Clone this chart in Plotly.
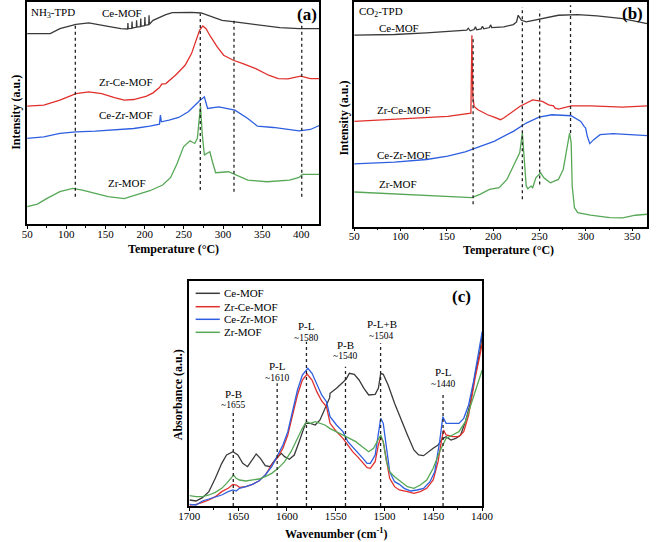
import plotly.graph_objects as go

FONT = "Liberation Serif"
C_CE = "#3a3a3a"
C_ZRCE = "#e0302c"
C_CEZR = "#2e5fe0"
C_ZR = "#56a856"

# ---------------- (a) NH3-TPD ----------------
a_ce_T = [50, 79.5, 91.8, 112.3, 128.7, 141, 153.3, 169.7, 177.9, 178.3, 178.6, 179.0, 183.5, 183.9, 184.3,
          189.3, 189.7, 190.1, 194.6, 195.0, 195.4, 199.9, 200.3, 200.7, 205.2, 205.6, 206.0,
          210.7, 227, 235.2, 259.8, 272.1, 284.4, 298.8, 315.2, 348, 372.5, 397.1, 423]
a_ce_I = [57.2, 57.2, 58.7, 60.0, 60.4, 60.0, 59.4, 58.7, 58.6, 58.6, 60.4, 58.7, 58.8, 60.8, 58.9,
          59.1, 61.2, 59.2, 59.3, 61.7, 59.4, 59.6, 62.2, 59.7, 59.9, 62.7, 60.0,
          61.2, 62.9, 63.5, 63.6, 63.4, 62.4, 61.2, 60.7, 59.7, 59.0, 58.7, 58.7]
a_zrce_T = [50, 71.3, 91.8, 112.3, 128.7, 145.1, 161.5, 173.8, 186.1, 202.5, 210.7, 218.9, 221.7, 227,
            239.3, 251.6, 259.8, 266, 270.1, 274.2, 278.3, 284.4, 292.6, 300.8, 313.1, 325.4, 341.8, 358.2,
            370.5, 382.8, 399.2, 411.5, 423]
a_zrce_I = [35.4, 35.7, 37.2, 39.2, 39.7, 39.2, 38.0, 37.2, 37.4, 38.4, 39.4, 41.0, 42.0, 42.2,
            44.7, 47.7, 51.2, 55.2, 58.2, 59.5, 58.7, 56.2, 53.2, 50.7, 49.2, 48.2, 46.7, 44.7,
            43.7, 43.6, 44.4, 43.7, 43.7]
a_cezr_T = [50, 71.3, 91.8, 112.3, 136.9, 161.5, 186.1, 206.6, 218.9, 220.1, 221.3, 231.1, 243.4, 255.7,
            263.9, 270.1, 276.2, 280.3, 294.7, 315.2, 331.6, 343.9, 364.3, 397.1, 411.5, 423]
a_cezr_I = [25.7, 26.2, 27.2, 27.7, 27.9, 28.2, 28.7, 29.4, 30.0, 32.7, 30.7, 31.2, 32.0, 33.7,
            35.7, 37.0, 38.2, 34.7, 35.2, 34.2, 31.7, 29.4, 29.0, 28.0, 28.4, 29.6]
a_zr_T = [50, 63.1, 75.4, 91.8, 108.2, 120.5, 136.9, 153.3, 173.8, 190.2, 206.6, 223, 233.2, 241.4, 249.6,
          257.8, 263.9, 267.2, 269.3, 271.3, 273.4, 276.2, 279.1, 283.2, 286.5, 290.6, 307, 331.6, 356.1,
          384.8, 397.1, 401.2, 423]
a_zr_I = [5.2, 6.0, 7.7, 9.7, 10.7, 10.2, 9.2, 8.2, 7.6, 8.7, 10.0, 11.7, 14.0, 18.2, 23.2,
          25.0, 24.2, 25.7, 30.2, 35.4, 27.2, 20.7, 21.2, 21.7, 18.7, 15.4, 15.7, 13.2, 12.7,
          13.2, 14.0, 14.9, 14.9]
a_marks = [111.5, 271.0, 314.0, 400.5]
a_mark_lo = [8.2, 10.2, 9.7, 8.2]
a_mark_hi = [59.7, 63.2, 61.2, 60.7]

# ---------------- (b) CO2-TPD ----------------
b_ce_T = [50, 93.4, 128, 162.7, 171.4, 173.1, 175.2, 179.4, 180.8, 182.2, 187, 188.4, 189.8, 196, 197.1,
          198.5, 211.3, 221.7, 225.2, 226.9, 230.4, 235.6, 252.9, 270.3, 291.1, 311.9, 339.6, 366]
b_ce_I = [57.7, 57.9, 58.4, 58.9, 59.2, 59.8, 59.0, 59.4, 60.2, 59.3, 59.6, 60.4, 59.6, 60.0, 60.8,
          60.0, 60.2, 60.9, 61.7, 63.7, 62.2, 61.7, 62.7, 63.7, 63.9, 63.5, 62.7, 61.2]
b_zrce_T = [50, 98.9, 150.9, 175.9, 177, 178, 179.4, 183.5, 193.9, 200.9, 207.8, 211.3, 218.2, 228.6,
            242.5, 252.9, 259.8, 265, 266.8, 270.3, 284.1, 304.9, 339.6, 366]
b_zrce_I = [31.7, 32.4, 33.2, 34.2, 57.7, 39.2, 36.2, 35.2, 33.7, 33.0, 32.2, 32.7, 34.2, 36.2,
            38.2, 37.7, 36.7, 36.4, 35.7, 35.4, 36.4, 36.4, 36.0, 36.4]
b_cezr_T = [50, 93.4, 128, 150.9, 169.7, 183.5, 200.9, 221.7, 235.6, 249.4, 263.3, 284.1, 294.5, 298,
            299.7, 301.5, 304.2, 308.4, 315.3, 329.2, 366]
b_cezr_I = [18.9, 19.4, 20.2, 21.2, 22.5, 24.0, 25.7, 28.7, 31.2, 33.0, 33.7, 33.4, 31.7, 30.2,
            29.7, 27.2, 25.0, 26.2, 27.7, 28.0, 27.4]
b_zr_T = [50, 98.9, 150.9, 177, 185.6, 196, 206.4, 214.8, 223.4, 228.6, 231.4, 233.8, 235.6, 237.3,
          240.8, 242.5, 246, 251.2, 254.6, 261.6, 270.3, 275.5, 278.9, 282.4, 284.1, 285.2, 287.6, 291.1,
          304.9, 325.8, 339.6, 353.5, 366]
b_zr_I = [10.4, 9.7, 9.0, 8.7, 9.7, 11.2, 11.7, 14.2, 19.2, 22.2, 28.2, 18.2, 12.2, 11.4,
          12.2, 11.7, 14.7, 16.2, 14.7, 13.2, 14.2, 17.2, 23.2, 28.2, 25.2, 12.2, 5.7, 4.2,
          3.4, 2.7, 2.6, 3.4, 3.7]
b_marks = [178.3, 231.4, 250.1, 283.4]
b_mark_lo = [6.7, 8.2, 12.7, 28.2]
b_mark_hi = [57.4, 66.2, 65.2, 66.7]

# ---------------- (c) Py-IR ----------------
c_ce_W = [1699.8, 1693.2, 1686.6, 1680, 1673.4, 1666.8, 1661.9, 1655.3, 1650.3, 1645.3, 1640.4, 1635.4,
          1631.5, 1627.2, 1622.2, 1617.3, 1612.3, 1605.7, 1602.4, 1597.5, 1592.5, 1587.5, 1584.2, 1580.9,
          1576, 1571, 1566.1, 1561.1, 1556.2, 1555.8, 1549.2, 1542.6, 1539.3, 1536, 1531, 1526.1, 1521.1,
          1516.2, 1509.6, 1506.3, 1503.9, 1501.3, 1496.3, 1489.7, 1483.1, 1476.5, 1469.9, 1465, 1460,
          1455.1, 1450.1, 1445.1, 1440.9, 1436.9, 1431.9, 1427, 1422, 1417.1, 1412.1, 1407.2, 1402.2, 1399.9]
c_ce_A = [1.8, 1.5, 2.5, 4.3, 8.3, 12.8, 15.3, 16.3, 15.3, 12.8, 11.8, 13.8,
          15.6, 14.3, 12.1, 11.8, 13.8, 15.8, 14.8, 14.0, 15.3, 19.3, 22.3, 24.8,
          24.8, 24.3, 25.8, 29.3, 32.5, 33.8, 35.3, 37.1, 38.1, 39.8, 39.5, 37.8, 35.3,
          33.3, 33.5, 35.3, 39.8, 39.5, 36.3, 30.8, 25.8, 21.3, 16.8, 15.3, 15.1,
          16.3, 17.3, 18.3, 20.1, 20.8, 19.8, 20.3, 21.3, 25.3, 30.8, 39.3, 46.3, 51.3]
c_zrce_W = [1699.8, 1693.2, 1686.6, 1680, 1673.4, 1666.8, 1660.2, 1655.3, 1652, 1648.7, 1642.1, 1635.4,
            1628.8, 1622.2, 1615.6, 1609, 1604.1, 1599.1, 1594.2, 1589.2, 1584.2, 1579.3, 1574.3, 1569.4,
            1564.4, 1559.5, 1555.8, 1549.2, 1542.6, 1537.6, 1532.7, 1527.7, 1522.8, 1517.8, 1514.5, 1509.6,
            1506.3, 1503.9, 1501.3, 1498, 1494.7, 1489.7, 1484.8, 1476.5, 1469.9, 1463.3, 1456.7, 1450.1,
            1445.1, 1441.8, 1439.5, 1436.9, 1430.3, 1423.7, 1418.8, 1413.8, 1407.2, 1402.2, 1399.9]
c_zrce_A = [0.3, 0.5, 1.1, 1.8, 2.8, 4.3, 5.3, 6.5, 6.3, 5.6, 5.8, 6.5,
            7.5, 9.3, 12.3, 14.8, 17.3, 21.3, 27.3, 33.3, 37.8, 39.6, 37.8, 34.3,
            31.5, 29.8, 24.8, 22.3, 20.3, 18.3, 16.3, 14.8, 13.3, 11.5, 11.3, 13.3,
            18.3, 20.6, 19.3, 13.3, 8.3, 5.8, 4.8, 4.3, 3.8, 4.3, 5.3, 7.8,
            13.3, 19.3, 22.8, 21.3, 20.8, 20.8, 22.3, 27.3, 38.3, 45.3, 48.8]
c_cezr_W = [1699.8, 1693.2, 1686.6, 1680, 1673.4, 1666.8, 1660.2, 1655.3, 1652, 1648.7, 1642.1, 1635.4,
            1628.8, 1622.2, 1615.6, 1609, 1604.1, 1599.1, 1594.2, 1589.2, 1584.2, 1578.6, 1574.3, 1569.4,
            1564.4, 1559.5, 1555.8, 1549.2, 1542.6, 1537.6, 1532.7, 1527.7, 1522.8, 1517.8, 1514.5, 1509.6,
            1506.3, 1503.9, 1501.3, 1498, 1494.7, 1489.7, 1484.8, 1479.8, 1473.2, 1466.6, 1460, 1453.4,
            1448.5, 1443.5, 1440.2, 1436.9, 1430.3, 1423.7, 1418.8, 1413.8, 1408.8, 1403.9, 1399.9]
c_cezr_A = [0.5, 0.3, 1.5, 2.1, 2.5, 3.3, 4.3, 4.8, 4.5, 5.3, 5.8, 6.5,
            7.5, 9.3, 11.8, 15.3, 18.3, 22.3, 28.3, 34.8, 39.3, 41.3, 39.8, 36.3,
            33.3, 31.3, 26.8, 24.3, 22.3, 19.3, 17.8, 16.3, 14.5, 12.8, 12.8, 15.3,
            22.3, 26.3, 24.8, 17.3, 10.3, 7.3, 6.5, 5.3, 4.5, 4.8, 5.3, 7.3,
            10.3, 19.3, 26.8, 24.8, 24.8, 24.8, 26.3, 30.3, 37.3, 45.3, 52.3]
c_zr_W = [1699.8, 1693.2, 1686.6, 1680, 1673.4, 1666.8, 1661.9, 1656.9, 1654.6, 1652, 1648.7, 1642.1,
          1635.4, 1628.8, 1622.2, 1615.6, 1609, 1602.4, 1595.8, 1589.2, 1584.2, 1580, 1576, 1571,
          1566.1, 1561.1, 1556.2, 1549.2, 1542.6, 1536, 1529.4, 1522.8, 1516.2, 1511.2, 1506.3, 1503.9,
          1501.3, 1498, 1494.7, 1489.7, 1483.1, 1476.5, 1469.9, 1463.3, 1456.7, 1450.1, 1443.5, 1436.9,
          1430.3, 1423.7, 1417.1, 1410.5, 1403.9, 1399.9]
c_zr_A = [3.1, 2.8, 2.8, 3.3, 4.1, 5.3, 6.8, 8.3, 9.3, 8.3, 7.8, 7.5,
          7.8, 8.1, 8.8, 9.8, 11.3, 13.3, 16.3, 20.3, 23.3, 25.3, 24.8, 25.3,
          24.8, 24.3, 23.3, 22.3, 21.3, 20.3, 19.3, 17.8, 16.3, 17.3, 20.3, 21.3,
          19.3, 13.3, 10.3, 8.8, 7.3, 5.8, 5.3, 6.3, 7.8, 11.3, 16.3, 20.3,
          21.3, 22.3, 25.3, 31.3, 37.3, 40.8]
c_marks = [1655, 1610, 1580, 1540, 1504, 1440]
c_mark_hi = [28.8, 36.8, 49.3, 41.8, 48.8, 33.8]
c_mark_names = ["P-B", "P-L", "P-L", "P-B", "P-L+B", "P-L"]
c_mark_text = ["~1655", "~1610", "~1580", "~1540", "~1504", "~1440"]

names = ["Ce-MOF", "Zr-Ce-MOF", "Ce-Zr-MOF", "Zr-MOF"]
colors = [C_CE, C_ZRCE, C_CEZR, C_ZR]

fig = go.Figure()

panels = [
    ("x", "y", [(a_ce_T, a_ce_I), (a_zrce_T, a_zrce_I), (a_cezr_T, a_cezr_I), (a_zr_T, a_zr_I)]),
    ("x2", "y2", [(b_ce_T, b_ce_I), (b_zrce_T, b_zrce_I), (b_cezr_T, b_cezr_I), (b_zr_T, b_zr_I)]),
    ("x3", "y3", [(c_ce_W, c_ce_A), (c_zrce_W, c_zrce_A), (c_cezr_W, c_cezr_A), (c_zr_W, c_zr_A)]),
]
for xa, ya, series in panels:
    for (xs, ys), nm, col in zip(series, names, colors):
        fig.add_trace(go.Scatter(x=xs, y=ys, mode="lines", name=nm, showlegend=False,
                                 line=dict(color=col, width=1.3), xaxis=xa, yaxis=ya))

# dotted guide lines
def add_marks(xa, ya, pos, lo, hi):
    for p, l, h in zip(pos, lo, hi):
        fig.add_trace(go.Scatter(x=[p, p], y=[l, h], mode="lines", showlegend=False,
                                 line=dict(color="#222222", width=1.3, dash="dot"),
                                 xaxis=xa, yaxis=ya, hoverinfo="skip"))

add_marks("x", "y", a_marks, a_mark_lo, a_mark_hi)
add_marks("x2", "y2", b_marks, b_mark_lo, b_mark_hi)
add_marks("x3", "y3", c_marks, [0] * len(c_marks), c_mark_hi)

W, H = 661, 542
def px_dom(p0, p1, total):
    return [p0 / total, p1 / total]

axis_common = dict(showline=True, linecolor="black", linewidth=1.5, mirror=True, showgrid=False,
                   zeroline=False)
xfont = dict(family=FONT, size=11, color="black")
xtick = dict(ticks="outside", ticklen=3, tickwidth=1.2, tickcolor="black", tickfont=xfont,
             ticklabelstandoff=-4)

fig.update_layout(
    width=W, height=H, margin=dict(l=0, r=0, t=0, b=0),
    paper_bgcolor="white", plot_bgcolor="white",
    font=dict(family=FONT, size=11, color="black"),
    showlegend=False,
    xaxis=dict(domain=px_dom(16.7, 319, W), range=[50, 423], tickvals=[50, 100, 150, 200, 250, 300, 350, 400],
               minor=dict(dtick=25, tick0=50, ticks="outside", ticklen=2, tickcolor="black"),
               anchor="y", **xtick, **axis_common),
    yaxis=dict(domain=[1 - 224 / H, 1 - 2 / H], range=[0, 66.7], showticklabels=False, ticks="",
               anchor="x", **axis_common),
    xaxis2=dict(domain=px_dom(355, 658, W), range=[50, 366], tickvals=[50, 100, 150, 200, 250, 300, 350],
                minor=dict(dtick=25, tick0=50, ticks="outside", ticklen=2, tickcolor="black"),
                anchor="y2", **xtick, **axis_common),
    yaxis2=dict(domain=[1 - 226.5 / H, 1 - 2 / H], range=[0, 67.7], showticklabels=False, ticks="",
                anchor="x2", **axis_common),
    xaxis3=dict(domain=px_dom(184.5, 487.3, W), range=[1700, 1400], tickvals=[1700, 1650, 1600, 1550, 1500, 1450, 1400],
                minor=dict(dtick=25, tick0=1400, ticks="outside", ticklen=2, tickcolor="black"),
                anchor="y3", **xtick, **axis_common),
    yaxis3=dict(domain=[1 - 506 / H, 1 - 281 / H], range=[0, 67.5], showticklabels=False, ticks="",
                anchor="x3", **axis_common),
)

ann = []
def t(x, y, s, xref, yref, size=11, bold=False, xanchor="center", yanchor="middle", angle=0):
    ann.append(dict(x=x, y=y, xref=xref, yref=yref, text=("<b>%s</b>" % s) if bold else s,
                    showarrow=False, xanchor=xanchor, yanchor=yanchor, textangle=angle,
                    font=dict(family=FONT, size=size, color="black")))

# panel (a) texts
t(53, 63.4, "NH<sub>3</sub>-TPD", "x", "y", xanchor="left")
t(171.7, 63.4, "Ce-MOF", "x", "y")
t(176.6, 42.7, "Zr-Ce-MOF", "x", "y")
t(176.6, 32.7, "Ce-Zr-MOF", "x", "y")
t(177.9, 12.4, "Zr-MOF", "x", "y")
t(407, 62.8, "(a)", "x", "y", size=17, bold=True)
# panel (b) texts
t(53.5, 64.7, "CO<sub>2</sub>-TPD", "x2", "y2", xanchor="left")
t(98.6, 60.0, "Ce-MOF", "x2", "y2")
t(103.8, 35.2, "Zr-Ce-MOF", "x2", "y2")
t(103.8, 21.7, "Ce-Zr-MOF", "x2", "y2")
t(96.8, 12.7, "Zr-MOF", "x2", "y2")
t(350, 64.2, "(b)", "x2", "y2", size=17, bold=True)
# panel (c) texts
c_name_y = [33.3, 41.5, 53.5, 48.0, 54.1, 39.8]
for p, nm, tx, hy in zip(c_marks, c_mark_names, c_mark_text, c_name_y):
    t(p + (-0.5 if nm != "P-L+B" else -1.5), hy + 0.4, nm, "x3", "y3", size=11)
    t(p, hy - 3.1, tx, "x3", "y3", size=9.5)
t(1421, 62.8, "(c)", "x3", "y3", size=17, bold=True)

# legend for panel (c): short line samples + names
shapes = []
leg_rows = [293.3, 306.7, 319.3, 332.3]
for nm, col, ry in zip(names, colors, leg_rows):
    shapes.append(dict(type="line", xref="paper", yref="paper", x0=191 / W, x1=216 / W,
                       y0=1 - ry / H, y1=1 - ry / H, line=dict(color=col, width=1.5)))
    t(218 / W, 1 - ry / H, nm, "paper", "paper", size=11, xanchor="left")

# axis titles
t(168 / W, 1 - 249 / H, "Temperature (°C)", "paper", "paper", size=12, bold=True)
t(515 / W, 1 - 250 / H, "Temperature (°C)", "paper", "paper", size=12, bold=True)
t(336 / W, 1 - 533 / H, "Wavenumber (cm<sup>-1</sup>)", "paper", "paper", size=12, bold=True)
t(5 / W, 1 - 112 / H, "Intensity (a.u.)", "paper", "paper", size=12, bold=True, angle=-90)
t(344 / W, 1 - 118 / H, "Intensity (a.u.)", "paper", "paper", size=12, bold=True, angle=-90)
t(173 / W, 1 - 395 / H, "Absorbance (a.u.)", "paper", "paper", size=12, bold=True, angle=-90)

fig.update_layout(annotations=ann, shapes=shapes)
fig.write_html("out.html", config={"displayModeBar": False},
               post_script="document.body.style.margin='0';document.body.style.overflow='hidden';")
